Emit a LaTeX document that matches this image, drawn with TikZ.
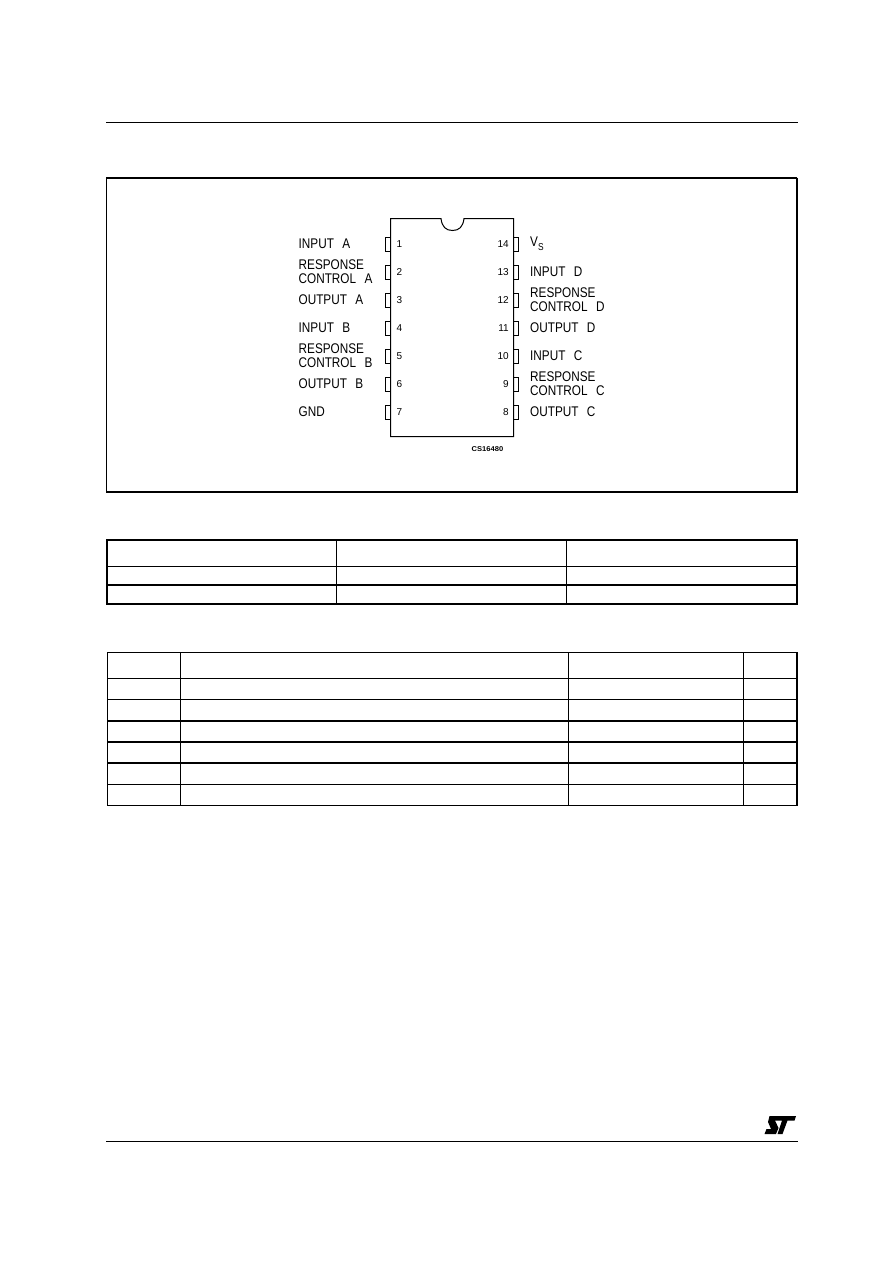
\documentclass[tikz,border=0pt]{standalone}
\usepackage{fontspec}
\setmainfont{Liberation Sans}
\newcommand{\wsp}{\hspace{10pt}}
\begin{document}
\begin{tikzpicture}[x=1pt,y=-1pt,
  thinl/.style={line width=1pt,black},
  thickl/.style={line width=2pt,black},
  medl/.style={line width=1.5pt,black},
  lab/.style={inner sep=0pt,font=\fontsize{14}{14}\selectfont,anchor=west,xscale=.84,transform shape,align=left},
  pinnum/.style={inner sep=0pt,font=\fontsize{10}{10}\selectfont,transform shape},
  pin/.style={line width=1pt,black}]
\useasboundingbox (0,0) rectangle (892,1263);
\fill[white] (0,0) rectangle (892,1263);
% page rules
\draw[thinl] (106,122) -- (798,122);
\draw[thinl] (106,1141) -- (798,1141);
% figure frame
\draw[medl] (106.5,491) -- (106.5,178) -- (797,178);
\draw[thickl] (797,177.5) -- (797,491.5) -- (106,491.5);
% IC body
\draw[thinl] (441,218.5) .. controls (442,227) and (446,230.5) .. (452.5,230.5) .. controls (459,230.5) and (463,227) .. (464,218.5) -- (513.5,218.5) -- (513.5,436.5) -- (390.5,436.5) -- (390.5,218.5) -- cycle;
% left labels
\node[lab] (lab1) at (298.5,244) {INPUT\wsp A};
\node[lab] (lab2) at (298.5,272) {\baselineskip=12.5pt RESPONSE\\CONTROL\wsp A};
\node[lab] (lab3) at (298.5,300) {OUTPUT\wsp A};
\node[lab] (lab4) at (298.5,328) {INPUT\wsp B};
\node[lab] (lab5) at (298.5,356) {\baselineskip=12.5pt RESPONSE\\CONTROL\wsp B};
\node[lab] (lab6) at (298.5,384) {OUTPUT\wsp B};
\node[lab] (lab7) at (298.5,412) {GND};
% pins
\foreach \i in {1,...,7}{
  \pgfmathsetmacro\yy{244+28*(\i-1)}
  \draw[pin] (390,\yy-7) -- (385.5,\yy-7) -- (385.5,\yy+7) -- (390,\yy+7);
  \node[pinnum] (n\i) at (399.5,\yy) {\i};
}
\foreach \i in {8,...,14}{
  \pgfmathsetmacro\yy{244+28*(14-\i)}
  \draw[pin] (514,\yy-7) -- (518.5,\yy-7) -- (518.5,\yy+7) -- (514,\yy+7);
  \node[pinnum,anchor=east] (n\i) at (509,\yy) {\i};
}
% right labels
\node[lab] (lab14) at (530,244) {V\raisebox{-4pt}{\fontsize{10}{10}\selectfont S}};
\node[lab] (lab13) at (530,272) {INPUT\wsp D};
\node[lab] (lab12) at (530,300) {\baselineskip=12.5pt RESPONSE\\CONTROL\wsp D};
\node[lab] (lab11) at (530,328) {OUTPUT\wsp D};
\node[lab] (lab10) at (530,356) {INPUT\wsp C};
\node[lab] (lab9) at (530,384) {\baselineskip=12.5pt RESPONSE\\CONTROL\wsp C};
\node[lab] (lab8) at (530,412) {OUTPUT\wsp C};
\node[inner sep=0pt,font=\bfseries\fontsize{7}{7}\selectfont,xscale=1.08,transform shape] (cs) at (487.5,449.5) {CS16480};
% table 1
\draw[thickl] (107,540) -- (797,540);
\draw[thinl] (107,566) -- (797,566);
\draw[thickl] (107,585) -- (797,585);
\draw[thickl] (106,604) -- (798,604);
\draw[medl] (107,539) -- (107,605);
\draw[thickl] (797,539) -- (797,605);
\draw[thinl] (336.5,540) -- (336.5,604);
\draw[thinl] (566.5,540) -- (566.5,604);
% table 2
\draw[thinl] (107,652.5) -- (797,652.5);
\draw[thinl] (107,678.5) -- (797,678.5);
\draw[thinl] (107,699.5) -- (797,699.5);
\draw[thickl] (107,721) -- (797,721);
\draw[thickl] (107,742) -- (797,742);
\draw[thickl] (107,763) -- (797,763);
\draw[thinl] (107,784.5) -- (797,784.5);
\draw[thinl] (107,805.5) -- (797,805.5);
\draw[thinl] (107,652) -- (107,806);
\draw[medl] (180.5,652) -- (180.5,806);
\draw[medl] (568.5,652) -- (568.5,806);
\draw[thinl] (743.5,652) -- (743.5,806);
\draw[thickl] (797,652) -- (797,806);
% ST logo
\fill[black] (769.5,1116) -- (796,1116) -- (794.5,1120.5) -- (787.5,1120.5) -- (782.5,1134) -- (777.5,1134) -- (782,1120.5) -- (775,1120.5) -- (778.5,1128) -- (776,1134) -- (764.5,1134) -- (766.5,1129) -- (771,1129) -- (768,1122) -- cycle;
\end{tikzpicture}
\end{document}
